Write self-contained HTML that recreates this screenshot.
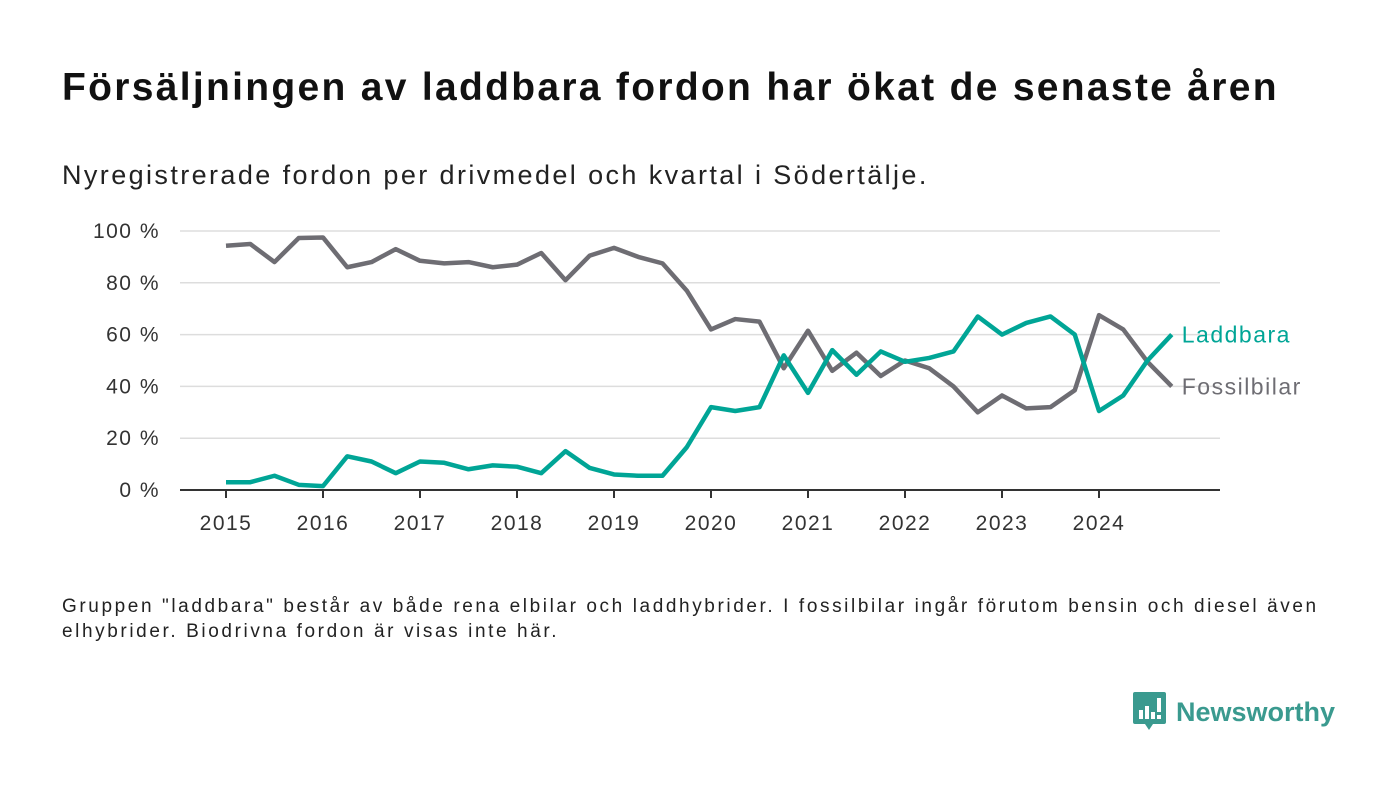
<!DOCTYPE html>
<html><head><meta charset="utf-8"><style>
body{margin:0;width:1400px;height:793px;background:#fff;font-family:"Liberation Sans",sans-serif;overflow:hidden;position:relative}
.t{position:absolute;left:62px;top:66px;font-size:39px;letter-spacing:2.3px;font-weight:bold;color:#111;margin:0;white-space:nowrap}
.s{position:absolute;left:62px;top:160px;font-size:27px;letter-spacing:2.4px;color:#222;white-space:nowrap}
.n{position:absolute;left:62px;top:594px;font-size:19px;letter-spacing:2.6px;line-height:25px;color:#222;white-space:nowrap}
.logo{position:absolute;left:1133px;top:692px;display:flex;align-items:center}
.logo span{font-size:27px;font-weight:bold;color:#3a9a8f;margin-left:10px}
</style></head><body>
<h1 class="t">Försäljningen av laddbara fordon har ökat de senaste åren</h1>
<div class="s">Nyregistrerade fordon per drivmedel och kvartal i Södertälje.</div>
<svg id="c" width="1400" height="793" style="position:absolute;left:0;top:0"></svg>
<div class="n">Gruppen "laddbara" består av både rena elbilar och laddhybrider. I fossilbilar ingår förutom bensin och diesel även<br>elhybrider. Biodrivna fordon är visas inte här.</div>
<div class="logo">
<svg width="33" height="40" viewBox="0 0 33 40"><path d="M2 0h29a2 2 0 0 1 2 2v28a2 2 0 0 1-2 2H20l-4 6-4-6H2a2 2 0 0 1-2-2V2a2 2 0 0 1 2-2z" fill="#3a9a8f"/><rect x="6" y="18" width="4" height="9" fill="#fff"/><rect x="12" y="14" width="4" height="13" fill="#fff"/><rect x="18" y="20" width="4" height="7" fill="#fff"/><rect x="24" y="6" width="4" height="14" fill="#fff"/><rect x="24" y="23" width="4" height="4" fill="#fff"/></svg>
<span>Newsworthy</span></div>
<script>
const years=[2015,2016,2017,2018,2019,2020,2021,2022,2023,2024];
const yTicks=[0,20,40,60,80,100];
const fossil=[94.3,95,88,97.3,97.5,86,88,93,88.5,87.5,88,86,87,91.5,81,90.5,93.5,90,87.5,77,62,66,65,47,61.5,46,53,44,50,47,40,30,36.5,31.5,32,38.5,67.5,62,49.5,40];
const laddbara=[3,3,5.5,2,1.5,13,11,6.5,11,10.5,8,9.5,9,6.5,15,8.5,6,5.5,5.5,16.5,32,30.5,32,52,37.5,54,44.5,53.5,49.5,51,53.5,67,60,64.5,67,60,30.5,36.5,50,60];
const svg=document.getElementById('c');const NS='http://www.w3.org/2000/svg';
const x=t=>226+(t-2015)*97, y=v=>490-v*2.59;
function mk(tag,a){const e=document.createElementNS(NS,tag);for(const k in a)e.setAttribute(k,a[k]);svg.appendChild(e);return e;}
yTicks.forEach(v=>{
 if(v>0){const g=mk('line',{x1:180,x2:1220,y1:y(v),y2:y(v),stroke:'#ddd','stroke-width':1.5});
 
 }
 const t=mk('text',{x:160,y:y(v)+7,'text-anchor':'end','font-size':21,'letter-spacing':1.5,fill:'#333','font-family':'Liberation Sans'});t.textContent=v+' %';
 
 
});
const ax=mk('line',{x1:180,x2:1220,y1:490,y2:490,stroke:'#333','stroke-width':2});


years.forEach(yr=>{
 const tk=mk('line',{x1:x(yr),x2:x(yr),y1:490,y2:498,stroke:'#333','stroke-width':2});
 
 
 const t=mk('text',{x:x(yr),y:530,'text-anchor':'middle','font-size':21,'letter-spacing':1.5,fill:'#333','font-family':'Liberation Sans'});t.textContent=yr;
 
 
});
function line(d,col,name,label){
 const pts=d.map((v,i)=>x(2015+i/4)+','+y(v)).join(' ');
 const p=mk('polyline',{points:pts,fill:'none',stroke:col,'stroke-width':4.5,'stroke-linejoin':'round'});
 
 
 const t=mk('text',{x:x(2015+(d.length-1)/4)+10,y:y(d[d.length-1])+8,'font-size':23,'letter-spacing':1.5,fill:col,'font-family':'Liberation Sans'});t.textContent=label;
 
 
}
line(fossil,'#6e6d73','fossilbilar-line','Fossilbilar');
line(laddbara,'#00a596','laddbara-line','Laddbara');
</script>
</body></html>
